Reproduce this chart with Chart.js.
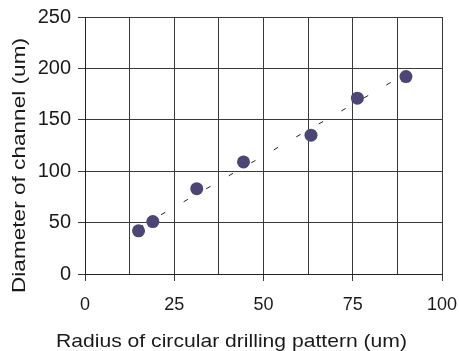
<!DOCTYPE html>
<html>
<head>
<meta charset="utf-8">
<style>
  html, body { margin: 0; padding: 0; background: #ffffff; }
  #wrap { width: 459px; height: 351px; }
</style>
</head>
<body>
<div id="wrap"><canvas id="chart" width="459" height="351"></canvas></div>
<script src="https://cdn.jsdelivr.net/npm/chart.js"></script>
<script>
  // measured points
  const radius = [15, 19, 31.3, 44.4, 63.3, 76.3, 89.9];
  const diameter = [42, 51, 83, 109, 135, 171, 192];
  // dashed trend line ends
  const trendX = [15, 88];
  const trendY = [45, 191];

  const xTitle = "Radius of circular drilling pattern (um)";
  const yTitle = "Diameter of channel (um)";
  const font = "'Liberation Sans', Arial, sans-serif";

  // the source figure is a bit stretched, so the titles are drawn
  // to the lengths they have there
  function stretchedText(c, text, x, y, len, angle) {
    c.save();
    c.translate(x, y);
    c.rotate(angle);
    const w = c.measureText(text).width;
    c.scale(len / w, 1);
    c.fillText(text, 0, 0);
    c.restore();
  }

  const axisTitles = {
    id: "axisTitles",
    afterDraw(chart) {
      const c = chart.ctx;
      c.save();
      c.fillStyle = "#1a1a1a";
      c.font = "19px " + font;
      c.textAlign = "center";
      c.textBaseline = "alphabetic";
      stretchedText(c, xTitle, 231.5, 347, 351, 0);
      stretchedText(c, yTitle, 25, 165.5, 255, -Math.PI / 2);
      c.restore();
    },
  };

  new Chart(document.getElementById("chart"), {
    type: "scatter",
    data: {
      datasets: [
        {
          data: radius.map((r, i) => ({ x: r, y: diameter[i] })),
          backgroundColor: "#4b4675",
          borderWidth: 0,
          pointRadius: 6.5,
        },
        {
          type: "line",
          data: trendX.map((r, i) => ({ x: r, y: trendY[i] })),
          borderColor: "#222",
          borderWidth: 1,
          borderDash: [5, 21],
          pointRadius: 0,
          fill: false,
        },
      ],
    },
    options: {
      responsive: false,
      animation: false,
      layout: { padding: { top: 17, right: 17, left: 0, bottom: 0 } },
      plugins: { legend: { display: false }, tooltip: { enabled: false } },
      scales: {
        x: {
          type: "linear",
          min: 0,
          max: 100,
          afterFit: (s) => {
            s.height = 77;
            s.paddingLeft = 0;
            s.paddingRight = 0;
          },
          ticks: {
            stepSize: 12.5,
            color: "#1a1a1a",
            font: { size: 18, family: font },
            padding: 13,
            maxRotation: 0,
            autoSkip: false,
            callback: (v) => (v % 25 === 0 ? v : ""),
          },
          grid: {
            color: "#3a3a3a",
            lineWidth: 1,
            tickLength: 7,
            tickColor: (ctx) => (ctx.tick && ctx.tick.value % 25 === 0 ? "#3a3a3a" : "rgba(0,0,0,0)"),
          },
          border: { color: "#222", width: 1 },
        },
        y: {
          min: 0,
          max: 250,
          afterFit: (s) => {
            s.width = 85;
            s.paddingTop = 0;
            s.paddingBottom = 0;
          },
          ticks: {
            stepSize: 50,
            color: "#1a1a1a",
            font: { size: 20, family: font },
            padding: 7,
          },
          grid: { color: "#3a3a3a", lineWidth: 1, tickLength: 7, tickColor: "#3a3a3a" },
          border: { color: "#222", width: 1 },
        },
      },
    },
    plugins: [axisTitles],
  });
</script>
</body>
</html>
